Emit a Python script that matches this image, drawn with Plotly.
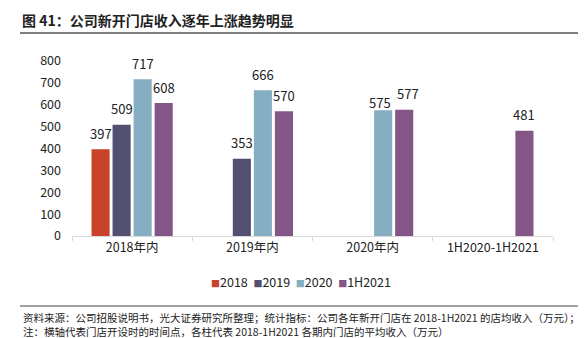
import plotly.graph_objects as go

categories = ["2018年内", "2019年内", "2020年内", "1H2020-1H2021"]
series_names = ["2018", "2019", "2020", "1H2021"]
values_2018 = [397, None, None, None]
values_2019 = [509, 353, None, None]
values_2020 = [717, 666, 575, None]
values_1h2021 = [608, 570, 577, 481]
colors = ["#C8432A", "#534F70", "#86AEC3", "#845687"]

title_text = "图 41：公司新开门店收入逐年上涨趋势明显"
footer1 = "资料来源：公司招股说明书，光大证券研究所整理；统计指标：公司各年新开门店在 2018-1H2021 的店均收入（万元）；"
footer2 = "注：横轴代表门店开设时的时间点，各柱代表 2018-1H2021 各期内门店的平均收入（万元）"

FONT = "Noto Sans CJK SC, Lato, sans-serif"
W, H = 588, 338
L, R, T, B = 72, 35, 61, 102
pw, ph = W - L - R, H - T - B
BARGAP, GROUPGAP = 0.3, 0.14

def px_x(x):
    return (x - L) / pw

def px_y(y):
    return (H - B - y) / ph

all_values = [values_2018, values_2019, values_2020, values_1h2021]
fig = go.Figure()
for name, vals, col in zip(series_names, all_values, colors):
    fig.add_trace(go.Bar(
        name=name, x=categories, y=vals, marker=dict(color=col, line=dict(width=0)),
        hoverinfo="x+y+name",
    ))

fig.update_layout(
    width=W, height=H, margin=dict(l=L, r=R, t=T, b=B),
    paper_bgcolor="white", plot_bgcolor="white",
    barmode="group", bargap=BARGAP, bargroupgap=GROUPGAP,
    font=dict(family=FONT, size=12, color="#222222"),
    showlegend=False,
    xaxis=dict(showline=True, linecolor="#d9d9d9", linewidth=1, ticks="outside", ticklen=4,
               tickcolor="#d9d9d9", tickson="boundaries", tickfont=dict(size=12.5), showgrid=False),
    yaxis=dict(range=[0, 800], dtick=100, showgrid=False, zeroline=False, showline=False,
               tickfont=dict(size=12.5), ticks="", ticklabelstandoff=10),
)

# value labels: placed above each bar within its group slot
cat_px = pw / len(categories)
slot_px = cat_px * (1 - BARGAP) / len(series_names)
n = len(series_names)
for si, vals in enumerate(all_values):
    for ci, v in enumerate(vals):
        if v is None:
            continue
        xs = (si - (n - 1) / 2) * slot_px
        ys = 16
        # the reference staggers two adjacent labels in the 2020 group to keep them apart
        if ci == 2 and si == 2:
            xs -= 3
            ys = 8
        elif ci == 2 and si == 3:
            xs += 4
        fig.add_annotation(x=categories[ci], y=v, xref="x", yref="y", text=str(v), showarrow=False,
                           xshift=xs, yshift=ys, yanchor="middle", xanchor="center",
                           font=dict(size=13, color="#222222", family=FONT))

legend_parts = []
for name, col in zip(series_names, colors):
    legend_parts.append("<span style='color:%s;font-size:9px'>■</span>%s" % (col, name))
legend_text = "  ".join(legend_parts)
fig.add_annotation(text=legend_text, x=px_x(301), y=px_y(281), xref="paper", yref="paper",
                   xanchor="center", yanchor="middle", showarrow=False,
                   font=dict(size=12.5, color="#222222", family=FONT))

fig.add_annotation(text="<b>" + title_text + "</b>", x=px_x(20), y=px_y(20), xref="paper", yref="paper",
                   xanchor="left", yanchor="middle", showarrow=False,
                   font=dict(size=14, color="#222222", family=FONT))
fig.add_shape(type="line", xref="paper", yref="paper", x0=px_x(20), x1=px_x(578), y0=px_y(33), y1=px_y(33),
              line=dict(color="#7f7f7f", width=2))
fig.add_shape(type="line", xref="paper", yref="paper", x0=px_x(20), x1=px_x(578), y0=px_y(306), y1=px_y(306),
              line=dict(color="#444444", width=1))
fig.add_annotation(text=footer1 + "<br>" + footer2, x=px_x(21), y=px_y(308), xref="paper", yref="paper",
                   xanchor="left", yanchor="top", align="left", showarrow=False,
                   font=dict(size=10.5, color="#222222", family=FONT))

fig.write_html("out.html")
